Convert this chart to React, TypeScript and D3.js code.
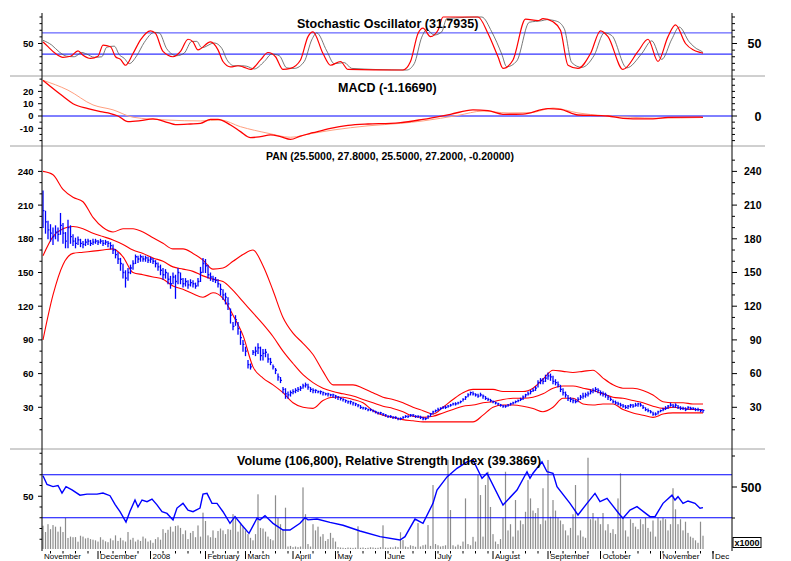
import React from 'react';
import * as d3 from 'd3';

// ---------- Price (daily, Nov 2007 - Nov 2008) ----------
const closes = [
  205,195,188,185,182,186,184,192,185,178,
  190,182,178,176,179,176,175,177,178,176,
  177,178,177,178,176,177,176,174,170,166,
  162,158,150,145,150,154,158,164,162,164,
  162,163,161,162,160,158,155,152,148,150,
  144,140,146,142,150,144,140,142,139,141,
  140,138,142,150,158,156,148,146,144,143,
  140,135,130,128,122,112,102,108,100,92,
  86,80,68,66,79,80,83,76,78,79,
  73,70,66,63,57,54,46,42,41,43,
  44,45,46,47,49,50,48,46,45,45,
  44,44,43,42,42,41,41,40,39,38,
  37,36,35,35,34,33,32,30,29.5,29,
  28,28,27,26,25,25,24,23,22,22,
  21,21,20,20,21,22,22,23,23,22,
  22,21,20,20,22,24,26,27,28,29,
  30,30,31,32,33,33,34,35,37,39,
  41,43,42,41,40,41,40,38,37,36,
  35,34,33,32,31,31,32,33,34,35,
  36,37,39,41,42,44,45,47,52,54,
  53,56,58,57,53,52,50,46,43,41,
  38,37,36,35,37,39,40,41,42,44,
  45,46,45,43,42,41,39,37,35,34,
  33,32,31,30,31,32,31,32,33,32,
  30,28,27,26,24,24,26,27,28,29,
  31,32,31,32,30,29,29,28,30,29,
  29,28,28,27,27.2,
];
const highs = [
  223,205,196,193,190,192,190,203,194,186,
  197,192,184,181,182,180,178,180,180,179,
  180,180,179,180,179,179,178,177,175,171,
  168,163,158,152,154,157,161,166,165,166,
  165,165,164,164,163,161,159,157,154,153,
  150,147,150,148,154,150,145,145,143,144,
  143,141,145,155,163,162,157,150,147,146,
  144,140,135,132,128,118,106,112,106,98,
  90,84,72,69,81,84,87,84,82,82,
  78,74,68,65,60,57,48,47,44,45,
  46,47,48,49,51,52,51,48,47,46,
  45,45,44,43,43,42,42,41,40,39,
  38,37,36,36,35,34,33,32,30.5,30,
  29,29,28,27,26,26,25,24,23,23,
  22,22,21,21,22,23,23,24,24,23,
  23,22.5,21.5,21,23,25,27,28,29.5,30,
  31,31.5,32,33,34,34.5,35,36,38,40,
  42.5,44,44,42.5,42,43,41.5,40,38.5,37.5,
  36,35,34,33,32,32,33,34,35,36,
  37,38.5,40.5,42,44,45.5,47,49,54,56,
  56,59,61,60,58,55,53,50,47,44,
  41,39,38,37,39,41,43,43,44,46,
  47,48,47,45,44,43,41,39,37,36,
  35,34,33,32,32,33,33,34,34,34,
  32,30,29,27.5,26,25.5,27,28,29.5,31,
  32,34,33,33.5,32,31,30.5,30,31,30.5,
  30,29.5,29.5,28.5,27.8,
];
const lows = [
  190,185,180,178,175,180,178,184,176,172,
  172,176,174,172,175,173,172,174,175,174,
  175,176,175,176,174,175,173,171,167,163,
  158,152,145,137,143,149,153,158,159,160,
  160,160,159,159,158,155,152,148,144,145,
  140,136,140,127,140,140,137,138,136,138,
  137,136,138,142,150,150,145,143,142,141,
  137,130,126,122,117,105,99,103,95,86,
  80,76,65,64,77,76,78,72,72,75,
  70,68,64,60,54,52,43,38,38,40,
  42,43,44,45,47,48,46,44,43,43,
  43,42,41,41,40,40,39,38,37,36.5,
  35.5,34.5,33.5,33,32,31.5,30.5,29,28.5,28,
  27,27,26,25,24,24,23,22,21,21,
  20,20,19,19,20,21,21,22,22,21,
  21,20,19,19,20,22,24,26,27,28,
  29,29,30,31,32,32,33,34,35.5,37,
  39.5,41,41,40,39,40,38,37,36,35,
  34,33,32,31,30,30,31,32,33,34,
  35,36,37,39,41,42,44,45,48,51,
  51,53,55,54,51,50,48,44,41,39,
  36,35,34,34,35,37,38,39,40,42,
  43,44,43,41,40,39,37,36,34,33,
  32,31,30,29,29,30,30,31,31,31,
  29,27,26,25,23,23,24,26,27,28,
  29,31,30,30,29,28,28,27,28,28,
  28,27,27,26,25.5,
];
// volume in thousands
const volumes = [
  188,137,200,160,193,180,140,180,137,250,
  89,100,95,96,59,107,100,85,90,80,
  75,70,60,95,75,62,55,85,70,110,
  65,90,70,60,137,75,90,60,75,65,
  100,85,60,70,50,80,95,75,160,130,
  155,180,140,185,190,170,120,150,80,130,
  145,95,190,100,293,226,110,95,150,90,
  145,165,150,120,160,155,281,260,140,200,
  180,150,120,90,70,120,441,170,165,140,
  100,80,70,433,250,200,160,333,20,25,
  15,20,15,20,497,281,40,20,200,150,
  180,100,120,65,80,130,90,60,15,12,
  10,8,12,10,9,11,183,10,12,8,
  10,14,12,9,10,15,191,12,10,14,
  12,20,15,135,72,20,15,30,25,18,
  209,20,30,35,193,25,516,40,30,20,
  25,30,720,314,30,20,35,25,60,408,
  40,30,98,60,597,435,100,516,623,339,
  120,60,40,80,250,623,150,200,100,395,
  150,230,200,300,556,408,310,290,330,200,
  490,230,718,260,395,310,250,230,200,150,
  110,170,280,516,110,150,100,90,736,240,
  290,230,250,200,290,150,200,130,160,120,
  408,610,260,150,100,240,210,180,160,240,
  200,250,170,140,230,100,250,230,250,240,
  150,200,490,320,200,240,150,220,130,100,
  90,70,50,220,107,
];

// ---------- Bollinger bands (sampled every 4 trading days) ----------
const bandStep = 4;
const bandUpper = [240,237,224,217,213,199,190,186,189,189,186,181,176,171,171,167,161,153,154,160,166,170,156,134,110,96,87,77,62,50,50,50,47,43,39,37,34,30,27,24,30,37,43,46,46,46,44,44,44,47,55,63,62,61,62,63,56,50,47,47,45,41,35,34,34,33,33];
const bandMid = [165,182,189,191,189,185,182,179,175,170,167,163,160,155,153,151,147,144,142,134,124,114,104,93,80,69,59,52,47,44,42,40,37,34,31,29,26,22,21,22,25,28,31,32,34,35,37,38,38,39,42,47,49,49,47,45,42,39,38,36,34,31,29,30,29,28,28];
const bandLower = [90,130,157,167,168,169,170,171,164,150,148,146,144,138,135,131,128,132,127,112,94,66,56,50,43,34,30,29,36,39,39,37,34,27,23,21,19,18,17,17,17,17,17,17,23,30,32,32,31,29,26,30,38,38,33,32,33,33,28,25,23,21,24,25,25,25,25];

// ---------- Stochastic ----------
const stochKDays = [0,2,5,8,11,14,16,19,22,24,27,29,31,33,36,39,43,45,48,52,55,58,60,62,67,70,72,75,78,80,83,87,90,93,96,99,103,106,108,112,115,119,122,143,144,147,150,152,155,158,160,174,178,182,184,188,193,198,200,204,207,210,214,219,223,226,232,238,242,246,250,253,257,260,263,264];
const stochK = [53,44,31,24,26,36,28,22,26,47,44,25,20,9,31,57,74,69,35,25,35,58,53,38,53,38,16,6,8,6,1,19,33,25,1,3,19,63,72,31,9,16,1,0,0,16,69,79,63,75,100,100,69,25,3,19,96,93,97,91,75,9,3,31,74,63,1,35,58,16,63,85,50,38,33,31.8];
const stochDDays = [0,3.5,6.5,9.5,12.5,15.5,17.5,20.5,23.5,25.5,28.5,30.5,32.5,34.5,37.5,40.5,44.5,46.5,49.5,53.5,56.5,59.5,61.5,63.5,68.5,71.5,73.5,76.5,79.5,81.5,84.5,88.5,91.5,94.5,97.5,100.5,104.5,107.5,109.5,113.5,116.5,120.5,123.5,144.5,145.5,148.5,151.5,153.5,156.5,159.5,161.5,175.5,179.5,183.5,185.5,189.5,194.5,199.5,201.5,205.5,208.5,211.5,215.5,220.5,224.5,227.5,233.5,239.5,243.5,247.5,251.5,254.5,258.5,261.5,263.5,264];
const stochD = [56,47,34,26,25,33,30,24,25,43,45,29,22,12,27,52,71,70,40,27,32,54,54,42,51,41,20,8,8,7,2,16,30,27,4,3,16,57,70,36,12,14,3,0,0,12,62,76,66,72,97,100,72,30,6,17,90,93,95,92,78,14,5,28,70,65,4,31,55,20,58,81,53,40,35,33];

// ---------- MACD ----------
const macdDays = [0,3,8,12,18,23,27,30,34,39,44,50,53,59,63,67,70,75,79,83,87,91,95,99,103,108,115,122,130,139,143,152,163,172,178,184,192,202,207,214,222,226,232,240,244,250,263,264];
const macdVals = [29,24,16,10,6,3.5,2,0,-4.6,-3.8,-2.4,-5.4,-7,-6.5,-6,-2.7,-2.7,-7.3,-12.7,-17.6,-16.8,-15.4,-16.8,-19,-16.3,-13.6,-10,-7.6,-6.5,-6,-5.4,-2.7,1.4,4.9,4.3,1.4,1.6,6,5.4,0.8,0.3,0,-1.9,-2.4,-2.4,-1.1,-0.9,-1.17];
const signalDays = [0,10,20,28,36,50,63,71,79,90,99,108,116,130,143,152,166,176,186,195,204,214,224,235,246,264];
const signalVals = [29,21,9,5,-1,-3.3,-4,-3.3,-8.7,-14,-17.3,-14,-11.4,-8,-6,-4,0.5,4,2.5,2.7,6.5,2.5,0.3,-1,-1.8,-1.2];

// ---------- RSI ----------
const rsiDays = [0,1.6,4,6,7.6,9.2,11.6,14.8,17.6,21.6,24,26.8,28.8,30.8,33.2,34.8,36.8,38,39.6,41.6,43.6,45.6,47.6,49.6,52,53.6,56,58,60,62.8,64,65.6,67.6,69.6,72,74.8,76.8,79.6,82.4,85.6,86.8,88.8,92,96,98.8,102.8,104.8,106,109.6,114.8,120,126.8,134.8,142.8,144.8,148.8,152,156,157.6,161.6,165.6,169.6,172,175.6,177.6,184,189.6,193.6,194.8,196,199.6,201.6,204,205.6,210.8,214,217.6,220.8,222.8,225.6,230.8,232,234.8,237.6,242.8,244.8,248,251.6,252.8,254,256,258,260.8,262.8,264];
const rsiVals = [69,61,59,60,53,59,56,51,52,52,53,50.5,42.5,35.6,26,36,46.5,40,46.5,45,47.4,42,35.6,34,28,39,43.4,37,35.6,39,52,52.7,43.4,43.4,35.6,24.8,31,23,15.5,29.5,28,32,24.8,18.6,18.6,24.8,30,28,28.8,25.7,23,17.7,12.4,9.3,12.4,28.8,24.8,43.4,55.8,68,76,82,83.7,66.7,71.4,41.9,55.8,72.8,66.7,71.4,82,72.8,71.4,58.9,43.4,32.6,43.4,52.7,45,48,32.6,29.5,37.2,40.3,31,31,43.4,51,46.5,49.6,43.4,45.6,43.4,38.8,39.4];

// ---------- Axis labels ----------
const monthLabels = ['November','December','2008','February','March','April','May','June','July','August','September','October','November','Dec'];
const monthDays = [0,23,44,66,82,101,118,138,158,181,203,224,248,269];
const priceTickLabels = [30,60,90,120,150,180,210,240];
const macdTickLabels = [20,10,0,-10];

const stochTitle = 'Stochastic Oscillator (31.7935)';
const macdTitle = 'MACD (-1.16690)';
const priceTitle = 'PAN (25.5000, 27.8000, 25.5000, 27.2000, -0.20000)';
const volTitle = 'Volume (106,800), Relative Strength Index (39.3869)';

const FONT = '"Liberation Sans", Arial, Helvetica, sans-serif';
const BLUE = '#0000ff';
const RED = '#ff0000';

export default function App() {
  const XL = 42, XR = 732;
  const x = d3.scaleLinear().domain([0, 276]).range([43, 733]);
  const yS = d3.scaleLinear().domain([0, 100]).range([70, 17]);
  const yM = d3.scaleLinear().domain([0, 10]).range([116, 103.7]);
  const yP = d3.scaleLinear().domain([0, 240]).range([441, 171.4]);
  const yR = d3.scaleLinear().domain([0, 100]).range([550, 442.5]);
  const yV = d3.scaleLinear().domain([0, 500]).range([549, 487]);

  const path = (days: number[], vals: number[], y: d3.ScaleLinear<number, number>, curve: d3.CurveFactory) =>
    d3.line<number>().x((_, i) => x(days[i])).y((d) => y(d)).curve(curve)(vals) || '';

  const bandDays = d3.range(0, closes.length, bandStep);

  const leftTicks: { y: number; major: boolean; label?: string; size?: number }[] = [];
  const rightTicks: { y: number; major: boolean; label?: string; size?: number }[] = [];

  // stochastic
  d3.range(0, 101, 12.5).forEach((v) => {
    const t = { y: yS(v), major: v === 50, label: v === 50 ? '50' : undefined };
    leftTicks.push({ ...t, size: 9.5 });
    rightTicks.push({ ...t, size: 12.5 });
  });
  // macd
  d3.range(-25, 31, 5).forEach((v) => {
    const yy = yM(v);
    if (yy < 78 || yy > 145) return;
    const lab = macdTickLabels.includes(v) ? String(v) : undefined;
    leftTicks.push({ y: yy, major: !!lab, label: lab, size: 9.5 });
    rightTicks.push({ y: yy, major: v === 0, label: v === 0 ? '0' : undefined, size: 12.5 });
  });
  // price
  d3.range(10, 261, 10).forEach((v) => {
    const yy = yP(v);
    if (yy < 149) return;
    const lab = priceTickLabels.includes(v) ? String(v) : undefined;
    leftTicks.push({ y: yy, major: !!lab, label: lab, size: 9.5 });
    rightTicks.push({ y: yy, major: !!lab, label: lab, size: 10.5 });
  });
  // rsi (left)
  d3.range(10, 101, 10).forEach((v) => {
    const yy = yR(v);
    if (yy < 452) return;
    leftTicks.push({ y: yy, major: v === 50, label: v === 50 ? '50' : undefined, size: 9.5 });
  });
  // volume (right)
  [250, 500, 750].forEach((v) => {
    rightTicks.push({ y: yV(v), major: v === 500, label: v === 500 ? '500' : undefined, size: 12.5 });
  });

  const weekTicks = d3.range(3, 272, 5);

  return (
    <svg width={791} height={561} style={{ position: 'absolute', left: 0, top: 0, background: '#fff' }}
      fontFamily={FONT}>
      <defs>
        <clipPath id="cS"><rect x={XL} y={12} width={XR - XL} height={64} /></clipPath>
        <clipPath id="cM"><rect x={XL} y={77} width={XR - XL} height={69} /></clipPath>
        <clipPath id="cP"><rect x={XL} y={147} width={XR - XL} height={302} /></clipPath>
        <clipPath id="cR"><rect x={XL} y={450} width={XR - XL} height={101} /></clipPath>
      </defs>
      <rect x={0} y={0} width={791} height={561} fill="#fff" />

      {/* panel separators */}
      {[76, 146, 449].map((yy) => (
        <line key={yy} x1={10} x2={765} y1={yy} y2={yy} stroke="#a0a0a0" strokeWidth={1} />
      ))}

      {/* ===== Stochastic ===== */}
      <g clipPath="url(#cS)">
        <line x1={XL} x2={XR} y1={yS(70)} y2={yS(70)} stroke="#4040ff" strokeWidth={1} />
        <line x1={XL} x2={XR} y1={yS(30)} y2={yS(30)} stroke={BLUE} strokeWidth={1} />
        <path d={path(stochDDays, stochD, yS, d3.curveMonotoneX)} fill="none" stroke="#555" strokeWidth={0.8} />
        <path d={path(stochKDays, stochK, yS, d3.curveMonotoneX)} fill="none" stroke={RED} strokeWidth={1.2} />
      </g>
      <text x={297} y={27.5} fontSize={12.5} fontWeight="bold">{stochTitle}</text>

      {/* ===== MACD ===== */}
      <g clipPath="url(#cM)">
        <line x1={XL} x2={XR} y1={yM(0)} y2={yM(0)} stroke={BLUE} strokeWidth={1} />
        <path d={path(signalDays, signalVals, yM, d3.curveMonotoneX)} fill="none" stroke="#ffa080" strokeWidth={1} />
        <path d={path(macdDays, macdVals, yM, d3.curveMonotoneX)} fill="none" stroke={RED} strokeWidth={1.3} />
      </g>
      <text x={338} y={91.7} fontSize={12.5} fontWeight="bold">{macdTitle}</text>

      {/* ===== Price ===== */}
      <g clipPath="url(#cP)">
        <path d={path(bandDays, bandUpper, yP, d3.curveMonotoneX)} fill="none" stroke={RED} strokeWidth={1.1} />
        <path d={path(bandDays, bandMid, yP, d3.curveMonotoneX)} fill="none" stroke={RED} strokeWidth={1.1} />
        <path d={path(bandDays, bandLower, yP, d3.curveMonotoneX)} fill="none" stroke={RED} strokeWidth={1.1} />
        {closes.map((c, i) => (
          <g key={i} stroke={BLUE} strokeWidth={1.3}>
            <line x1={x(i)} x2={x(i)} y1={yP(highs[i])} y2={yP(lows[i]) + 0.5} />
            <line x1={x(i)} x2={x(i) + 1.4} y1={yP(c)} y2={yP(c)} />
          </g>
        ))}
      </g>
      <text x={266} y={159.5} fontSize={10.5} fontWeight="bold">{priceTitle}</text>

      {/* ===== Volume + RSI ===== */}
      <g clipPath="url(#cR)">
        {volumes.map((v, i) => (
          <rect key={i} x={x(i) - 0.6} y={yV(v)} width={1.2} height={yV(0) - yV(v)} fill="#8c8c8c" />
        ))}
        <line x1={XL} x2={XR} y1={yR(70)} y2={yR(70)} stroke={BLUE} strokeWidth={1} />
        <line x1={XL} x2={XR} y1={yR(30)} y2={yR(30)} stroke={BLUE} strokeWidth={1} />
        <path d={path(rsiDays, rsiVals, yR, d3.curveLinear)} fill="none" stroke={BLUE} strokeWidth={1.4} />
      </g>
      <text x={237} y={464.5} fontSize={12.5} fontWeight="bold">{volTitle}</text>

      {/* ===== Axes ===== */}
      <line x1={XL} x2={XL} y1={13} y2={551} stroke="#000" strokeWidth={1} />
      <line x1={XR} x2={XR} y1={13} y2={551} stroke="#000" strokeWidth={1} />
      {leftTicks.map((t, i) => (
        <g key={'l' + i}>
          <line x1={t.major ? XL - 4 : XL - 2.5} x2={XL} y1={t.y} y2={t.y} stroke="#000" />
          {t.label && (
            <text x={33.5} y={t.y + 3.4} textAnchor="end" fontSize={t.size} fontWeight="bold">{t.label}</text>
          )}
        </g>
      ))}
      {rightTicks.map((t, i) => (
        <g key={'r' + i}>
          <line x1={XR} x2={t.major ? XR + 5 : XR + 3} y1={t.y} y2={t.y} stroke="#000" />
          {t.label && (
            <text x={761.5} y={t.y + (t.size || 10) * 0.36} textAnchor="end" fontSize={t.size} fontWeight="bold">{t.label}</text>
          )}
        </g>
      ))}

      {/* x axis: weeks and months */}
      {weekTicks.map((d) => (
        <line key={'w' + d} x1={x(d)} x2={x(d)} y1={551} y2={553.5} stroke="#000" />
      ))}
      {monthDays.map((d, i) => (
        <g key={'m' + i}>
          {i > 0 && <line x1={x(d) - 2.5} x2={x(d) - 2.5} y1={551} y2={559} stroke="#000" />}
          <text x={i === 0 ? 44 : x(d) - 0.5} y={559.3} fontSize={8}>{monthLabels[i]}</text>
        </g>
      ))}

      {/* x1000 box */}
      <rect x={733} y={537.5} width={28} height={10} fill="#fff" stroke="#000" strokeWidth={1} />
      <text x={747} y={546} textAnchor="middle" fontSize={9} fontWeight="bold">x1000</text>
    </svg>
  );
}
